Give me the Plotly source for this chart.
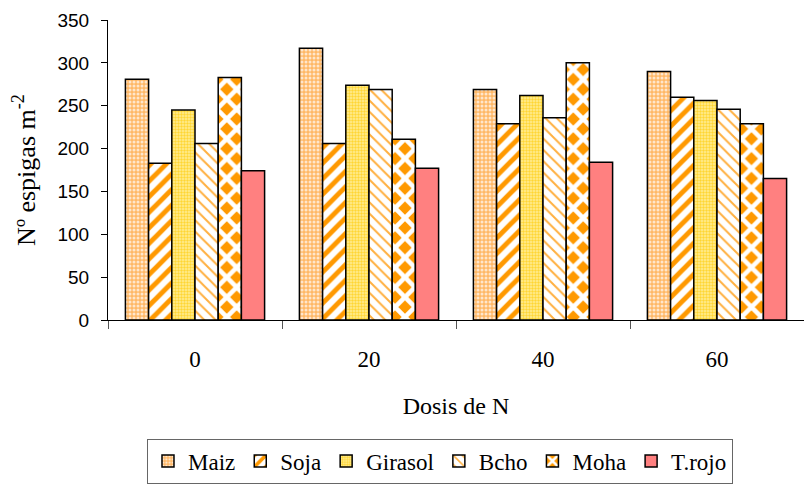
import plotly.graph_objects as go

categories = ["0", "20", "40", "60"]
series_names = ["Maiz", "Soja", "Girasol", "Bcho", "Moha", "T.rojo"]
maiz = [281, 317, 269, 290]
soja = [183, 206, 229, 260]
girasol = [245, 274, 262, 256]
bcho = [206, 269, 236, 246]
moha = [283, 211, 300, 229]
trojo = [174, 177, 184, 165]
values = [maiz, soja, girasol, bcho, moha, trojo]

styles = [
    dict(color="#FFC080", pattern=dict(shape=".", fgcolor="#FFE6CC", bgcolor="#FFB866", size=4, solidity=0.45, fgopacity=1)),
    dict(color="#FFFFFF", pattern=dict(shape="/", fgcolor="#FF9900", bgcolor="#FFFFFF", size=11, solidity=0.45, fgopacity=1)),
    dict(color="#FFE070", pattern=dict(shape=".", fgcolor="#FFD633", bgcolor="#FFEE99", size=3, solidity=0.5, fgopacity=1)),
    dict(color="#FFFFFF", pattern=dict(shape="\\", fgcolor="#FFB040", bgcolor="#FFFFFF", size=8, solidity=0.25, fgopacity=1)),
    dict(color="#FF9900", pattern=dict(shape="x", fgcolor="#FFFFFF", bgcolor="#FF9900", size=14, solidity=0.55, fgopacity=1)),
    dict(color="#FF8080", pattern=dict(shape="")),
]

fig = go.Figure()
for name, vals, st in zip(series_names, values, styles):
    fig.add_trace(go.Bar(
        x=categories, y=vals, name=name,
        marker=dict(color=st["color"], pattern=st["pattern"],
                    line=dict(color="#000000", width=1.5)),
    ))

fig.update_layout(
    width=804, height=484,
    margin=dict(l=108, r=0, t=20, b=164),
    paper_bgcolor="white", plot_bgcolor="white",
    barmode="group", bargap=0.2, bargroupgap=0,
    font=dict(family="Liberation Serif", color="black"),
    xaxis=dict(
        type="category", showline=True, linecolor="black", linewidth=1,
        ticks="outside", tickson="boundaries", ticklen=8, tickcolor="#555555",
        tickfont=dict(family="Liberation Serif", size=23),
        ticklabelstandoff=18,
        title=dict(text="Dosis de N", font=dict(family="Liberation Serif", size=24), standoff=26),
        showgrid=False,
    ),
    yaxis=dict(
        range=[0, 350], dtick=50, showline=True, linecolor="black", linewidth=1,
        ticks="outside", ticklen=6, tickcolor="black",
        tickfont=dict(family="Liberation Sans", size=19),
        ticklabelstandoff=8,
        title=dict(text="Nº espigas m<sup>-2</sup>", font=dict(family="Liberation Serif", size=26), standoff=14),
        showgrid=False, zeroline=False,
    ),
    legend=dict(
        orientation="h", x=0.477, xanchor="center", y=-0.545, yanchor="bottom",
        bordercolor="#666666", borderwidth=1, font=dict(family="Liberation Serif", size=23),
        traceorder="normal",
    ),
)

fig.write_html("out.html")
